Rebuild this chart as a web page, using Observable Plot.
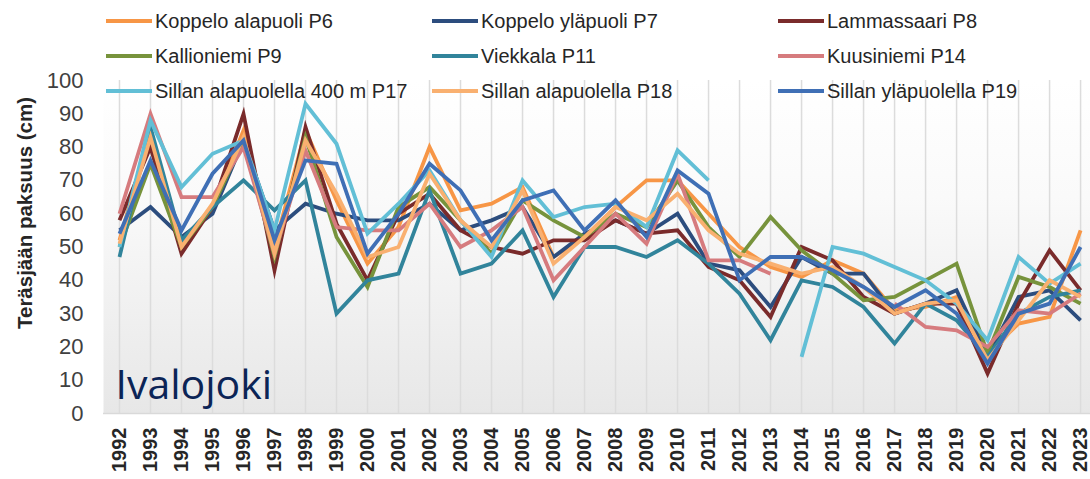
<!DOCTYPE html>
<html><head><meta charset="utf-8">
<script src="https://cdn.jsdelivr.net/npm/d3@7"></script>
<script src="https://cdn.jsdelivr.net/npm/@observablehq/plot@0.6"></script>
<style>
body{margin:0;background:#fff;font-family:"Liberation Sans",Arial,sans-serif}
#wrap{position:relative;width:1090px;height:479px;overflow:hidden}
.leg{position:absolute;display:flex;align-items:center;font-size:20px;color:#262626;white-space:nowrap;line-height:1}
.leg span.sw{display:inline-block;width:46px;height:4px;margin-right:3px}
</style>
</head><body><div id="wrap"></div>
<script>
const years = [1992,1993,1994,1995,1996,1997,1998,1999,2000,2001,2002,2003,2004,2005,2006,2007,2008,2009,2010,2011,2012,2013,2014,2015,2016,2017,2018,2019,2020,2021,2022,2023];
const yTicks = [0,10,20,30,40,50,60,70,80,90,100];
const seriesNames = ["Koppelo alapuoli P6","Koppelo yläpuoli P7","Lammassaari P8","Kallioniemi P9","Viekkala P11","Kuusiniemi P14","Sillan alapuolella 400 m P17","Sillan alapuolella P18","Sillan yläpuolella P19"];
const seriesColors = ["#F79646","#2C4D7E","#7A2B2B","#77933C","#31849B","#D67B7E","#62BFD6","#F9B070","#3F6FB5"];

const P6  = [52,85,50,62,85,50,85,64,45,56,80,61,63,68,47,53,62,70,70,60,50,44,41,46,42,31,32,35,18,27,29,55];
const P7  = [55,62,53,60,82,55,63,60,58,58,63,55,58,62,47,54,58,54,60,45,43,32,47,42,42,30,33,37,17,35,37,28];
const P8  = [58,80,48,62,90,43,86,57,40,60,66,55,50,48,52,52,58,54,55,44,40,29,50,46,35,30,33,33,12,33,49,37];
const P9  = [50,75,50,62,82,47,83,53,38,62,68,58,48,64,58,53,60,56,70,56,47,59,49,42,34,35,40,45,18,41,38,33];
const P11 = [47,86,52,62,70,61,70,30,40,42,67,42,45,55,35,50,50,47,52,45,36,22,40,38,32,21,33,28,17,30,35,37];
const P14 = [60,90,65,65,80,48,79,56,55,55,63,50,55,62,40,50,60,51,72,46,46,42,null,null,null,33,26,25,20,31,30,36];
const P17 = [50,88,68,78,82,55,93,81,54,63,73,58,47,70,59,62,63,56,79,70,null,null,17,50,48,44,40,33,22,47,39,45];
const P18 = [51,83,50,63,83,48,82,66,47,50,72,58,50,67,45,53,62,58,66,55,48,45,42,44,38,30,33,34,16,28,40,35];
const P19 = [54,76,55,72,82,52,76,75,48,60,75,67,52,64,67,55,64,53,73,66,40,47,47,43,38,32,37,30,15,30,33,50];
const seriesValues = [P6,P7,P8,P9,P11,P14,P17,P18,P19];

const lineMarks = seriesValues.map((vals, i) => {
  const rows = years.map((y, j) => ({year: y, value: vals[j]}));
  return Plot.line(rows, {x: "year", y: "value", stroke: seriesColors[i], strokeWidth: 3.8, strokeLinejoin: "miter", strokeMiterlimit: 6, strokeLinecap: "butt"});
});

const chart = Plot.plot({
  width: 1090, height: 479,
  marginLeft: 103, marginRight: 0, marginTop: 80, marginBottom: 66,
  style: {background: "transparent", fontFamily: "'Liberation Sans', Arial, sans-serif", color: "#404040", overflow: "visible"},
  x: {type: "linear", domain: [1991.484, 2023.32]},
  y: {domain: [0, 100]},
  marks: [
    Plot.frame({fill: "url(#bg)", stroke: "none"}),
    Plot.gridX(years, {stroke: "#dcdcdc", strokeOpacity: 1, strokeWidth: 1.5}),
    Plot.ruleY([0], {stroke: "#d9d9d9", strokeWidth: 1.5}),
    Plot.axisY({ticks: yTicks, tickSize: 0, tickPadding: 20, fontSize: 22, fill: "#404040", label: null}),
    Plot.axisX({ticks: years, tickFormat: d => String(d), tickRotate: -90, tickSize: 0, tickPadding: 14, fontSize: 20, fontWeight: "bold", fill: "#262626", label: null}),
    Plot.text(["Ivalojoki"], {frameAnchor: "bottom-left", dx: 12, dy: -15, textAnchor: "start", fontSize: 41, fill: "#0b2456", fontFamily: "'Open Sans', sans-serif"}),
    Plot.text(["Teräsjään paksuus (cm)"], {frameAnchor: "left", rotate: -90, dx: -78, dy: -34, textAnchor: "middle", lineAnchor: "middle", fontSize: 20.5, fontWeight: "bold", fill: "#262626"}),
    ...lineMarks
  ]
});

const defs = d3.select(chart).insert("defs", ":first-child");
const grad = defs.append("linearGradient").attr("id", "bg").attr("x1", 0).attr("y1", 0).attr("x2", 0).attr("y2", 1);
grad.append("stop").attr("offset", "0").attr("stop-color", "#ffffff");
grad.append("stop").attr("offset", "0.35").attr("stop-color", "#fafafa");
grad.append("stop").attr("offset", "1").attr("stop-color", "#e7e7e7");

const wrap = document.getElementById("wrap");
wrap.appendChild(chart);

const legX = [106, 432, 778];
const legY = [21, 56, 91];
seriesNames.forEach((name, i) => {
  const d = document.createElement("div");
  d.className = "leg";
  d.style.left = legX[i % 3] + "px";
  d.style.top = (legY[Math.floor(i / 3)] - 11) + "px";
  d.style.height = "22px";
  const sw = document.createElement("span");
  sw.className = "sw";
  sw.style.background = seriesColors[i];
  d.appendChild(sw);
  d.appendChild(document.createTextNode(name));
  wrap.appendChild(d);
});
</script></body></html>
